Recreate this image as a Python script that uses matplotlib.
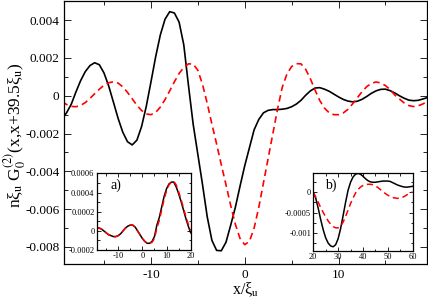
import numpy as np
import matplotlib.pyplot as plt
from matplotlib.ticker import MultipleLocator, FixedLocator, FixedFormatter

plt.rcParams['font.family'] = 'Liberation Serif'
plt.rcParams['mathtext.fontset'] = 'stix'
plt.rcParams['axes.unicode_minus'] = False

# main panel, x in units of xi_u
x_main = np.arange(-19.5, 19.51, 0.5)
g_black = [-0.00125, -0.00090, -0.00045, 0.00020, 0.00080, 0.00128, 0.00160, 0.00175,
           0.00164, 0.00120, 0.00051, -0.00034, -0.00120, -0.00193, -0.00243, -0.00260,
           -0.00235, -0.00163, -0.00056, 0.00073, 0.00206, 0.00322, 0.00405, 0.00445,
           0.00438, 0.00390, 0.00270, 0.00055, -0.00150, -0.00310, -0.00470, -0.00640,
           -0.00765, -0.00818, -0.00820, -0.00775, -0.00685, -0.00590, -0.00478,
           -0.00370,
           -0.00275, -0.00180, -0.00125, -0.00090, -0.00077, -0.00073, -0.00073, -0.00071,
           -0.00067, -0.00058, -0.00044, -0.00024, 0.00003, 0.00026, 0.00041, 0.00043,
           0.00035, 0.00024, 0.00009, -0.00006, -0.00019, -0.00028, -0.00032, -0.00029,
           -0.00019, -0.00004, 0.00013, 0.00026, 0.00034, 0.00035, 0.00027, 0.00015,
           0.00000, -0.00013, -0.00023, -0.00026, -0.00024, -0.00017, -0.00009]
g_red = [-0.00030, -0.00046, -0.00056, -0.00058, -0.00051, -0.00036, -0.00014, 0.00011,
         0.00035, 0.00056, 0.00069, 0.00074, 0.00067, 0.00047, 0.00018, -0.00016,
         -0.00050, -0.00078, -0.00096, -0.00100, -0.00088, -0.00060, -0.00020, 0.00026,
         0.00074, 0.00118, 0.00150, 0.00169, 0.00168, 0.00135, 0.00060, -0.00040,
         -0.00150, -0.00255, -0.00365, -0.00470, -0.00580, -0.00680, -0.00755,
         -0.00788,
         -0.00770, -0.00700, -0.00590, -0.00460, -0.00330, -0.00200, -0.00070, 0.00045,
         0.00115, 0.00155, 0.00170, 0.00169, 0.00140, 0.00090, 0.00030, -0.00025,
         -0.00065, -0.00090, -0.00100, -0.00100, -0.00091, -0.00072, -0.00043, -0.00011,
         0.00021, 0.00048, 0.00066, 0.00073, 0.00068, 0.00054, 0.00033, 0.00004,
         -0.00017, -0.00038, -0.00052, -0.00057, -0.00053, -0.00043, -0.00030]

# inset a)
x_a = np.arange(-19, 20.1, 1.0)
a_black = [0.00003, 0.00003, 0.00002, 0.00000, -0.00002, -0.00004, -0.00005, -0.00006,
           -0.00006, -0.00005, -0.00003, 0.00000, 0.00003, 0.00005, 0.00006, 0.00006,
           0.00004, 0.00000, -0.00004, -0.00008, -0.00011, -0.00013, -0.00013, -0.00011,
           -0.00006, 0.00006, 0.00014, 0.00025, 0.00036, 0.00044, 0.00049, 0.00051,
           0.00051, 0.00046, 0.00039, 0.00031, 0.00022, 0.00013, 0.00005, -0.00002]
a_red = [0.00003, 0.00003, 0.00002, 0.00000, -0.00002, -0.00004, -0.00005, -0.00006,
         -0.00006, -0.00005, -0.00003, 0.00000, 0.00003, 0.00005, 0.00006, 0.00006,
         0.00004, 0.00000, -0.00004, -0.00008, -0.00011, -0.00013, -0.00013, -0.00012,
         -0.00008, 0.00003, 0.00011, 0.00022, 0.00033, 0.00042, 0.00048, 0.00051,
         0.00052, 0.00048, 0.00041, 0.00033, 0.00024, 0.00015, 0.00007, 0.00000]

# inset b)
x_b = np.arange(20, 60.1, 1.0)
b_black = [0.00000, -0.00015, -0.00040, -0.00068, -0.00093, -0.00113, -0.00126, -0.00133,
           -0.00135, -0.00130, -0.00115, -0.00090, -0.00058, -0.00025, 0.00005, 0.00025,
           0.00038, 0.00045, 0.00047, 0.00045, 0.00040, 0.00034, 0.00029, 0.00026,
           0.00025, 0.00025, 0.00026, 0.00027, 0.00028, 0.00028, 0.00028, 0.00027,
           0.00024, 0.00021, 0.00018, 0.00016, 0.00014, 0.00013, 0.00013, 0.00014, 0.00015]
b_red = [0.00000, -0.00012, -0.00025, -0.00038, -0.00050, -0.00061, -0.00071, -0.00079,
         -0.00085, -0.00088, -0.00088, -0.00084, -0.00074, -0.00060, -0.00044, -0.00028,
         -0.00014, -0.00002, 0.00007, 0.00013, 0.00017, 0.00019, 0.00020, 0.00020,
         0.00019, 0.00016, 0.00012, 0.00007, 0.00002, -0.00003, -0.00007, -0.00010,
         -0.00013, -0.00014, -0.00015, -0.00014, -0.00012, -0.00009, -0.00005, -0.00002,
         0.00001]

main_yticks = [-0.008, -0.006, -0.004, -0.002, 0, 0.002, 0.004]
main_ylabels = ['-0.008', '-0.006', '-0.004', '-0.002', '0', '0.002', '0.004']
a_yticks = [-0.0002, 0, 0.0002, 0.0004, 0.0006]
a_ylabels = ['-0.0002', '0', '0.0002', '0.0004', '0.0006']
b_yticks = [-0.001, -0.0005, 0]
b_ylabels = ['-0.001', '-0.0005', '0']


def style(ax, fs, major, minor):
    ax.tick_params(which='both', direction='in', top=True, right=True, labelsize=fs)
    ax.tick_params(which='major', length=major, width=0.6)
    ax.tick_params(which='minor', length=minor, width=0.6)
    for s in ax.spines.values():
        s.set_linewidth(0.9)


fig = plt.figure(figsize=(4.28, 3.0), dpi=100)
ax = fig.add_axes([0.15, 0.12, 0.848, 0.877])
ax.plot(x_main, g_black, color='black', lw=1.2)
ax.plot(x_main, g_red, color='#ff0000', lw=1.2, ls=(0, (4, 2.5)))
ax.set_xlim(-19.25, 19.45)
ax.set_ylim(-0.0089, 0.00502)
ax.xaxis.set_major_locator(FixedLocator([-10, 0, 10]))
ax.xaxis.set_minor_locator(MultipleLocator(5))
ax.yaxis.set_major_locator(FixedLocator(main_yticks))
ax.yaxis.set_major_formatter(FixedFormatter(main_ylabels))
ax.yaxis.set_minor_locator(MultipleLocator(0.001))
style(ax, 9.5, 5, 3)
ax.set_xlabel(r'x/ξ$_\mathrm{u}$', fontsize=11.5)
ax.xaxis.set_label_coords(0.5, -0.062)
ax.set_ylabel(r'nξ$_\mathrm{u}$ G$_0^{(2)}$(x,x+39.5ξ$_\mathrm{u}$)', fontsize=12.5)
ax.yaxis.set_label_coords(-0.1, 0.49)

# inset a
ia = fig.add_axes([0.2255, 0.1667, 0.22, 0.255])
ia.plot(x_a, a_black, color='black', lw=1.1)
ia.plot(x_a, a_red, color='#ff0000', lw=1.1, ls=(0, (4, 2.5)))
ia.set_xlim(-19, 20)
ia.set_ylim(-0.0002, 0.0006)
ia.xaxis.set_major_locator(FixedLocator([-10, 0, 10, 20]))
ia.xaxis.set_minor_locator(MultipleLocator(5))
ia.yaxis.set_major_locator(FixedLocator(a_yticks))
ia.yaxis.set_major_formatter(FixedFormatter(a_ylabels))
ia.yaxis.set_minor_locator(MultipleLocator(0.0001))
style(ia, 6, 3, 1.8)
ia.tick_params(pad=1.5)
ia.text(0.15, 0.8, 'a)', transform=ia.transAxes, fontsize=10)

# inset b
ib = fig.add_axes([0.732, 0.164, 0.232, 0.258])
ib.plot(x_b, b_black, color='black', lw=1.1)
ib.plot(x_b, b_red, color='#ff0000', lw=1.1, ls=(0, (4, 2.5)))
ib.set_xlim(20, 60)
ib.set_ylim(-0.00145, 0.00047)
ib.xaxis.set_major_locator(FixedLocator([20, 30, 40, 50, 60]))
ib.xaxis.set_minor_locator(MultipleLocator(5))
ib.yaxis.set_major_locator(FixedLocator(b_yticks))
ib.yaxis.set_major_formatter(FixedFormatter(b_ylabels))
ib.yaxis.set_minor_locator(MultipleLocator(0.00025))
style(ib, 6, 3, 1.8)
ib.tick_params(pad=1.5)
ib.text(0.12, 0.8, 'b)', transform=ib.transAxes, fontsize=10)

fig.savefig('out.png', dpi=100)
